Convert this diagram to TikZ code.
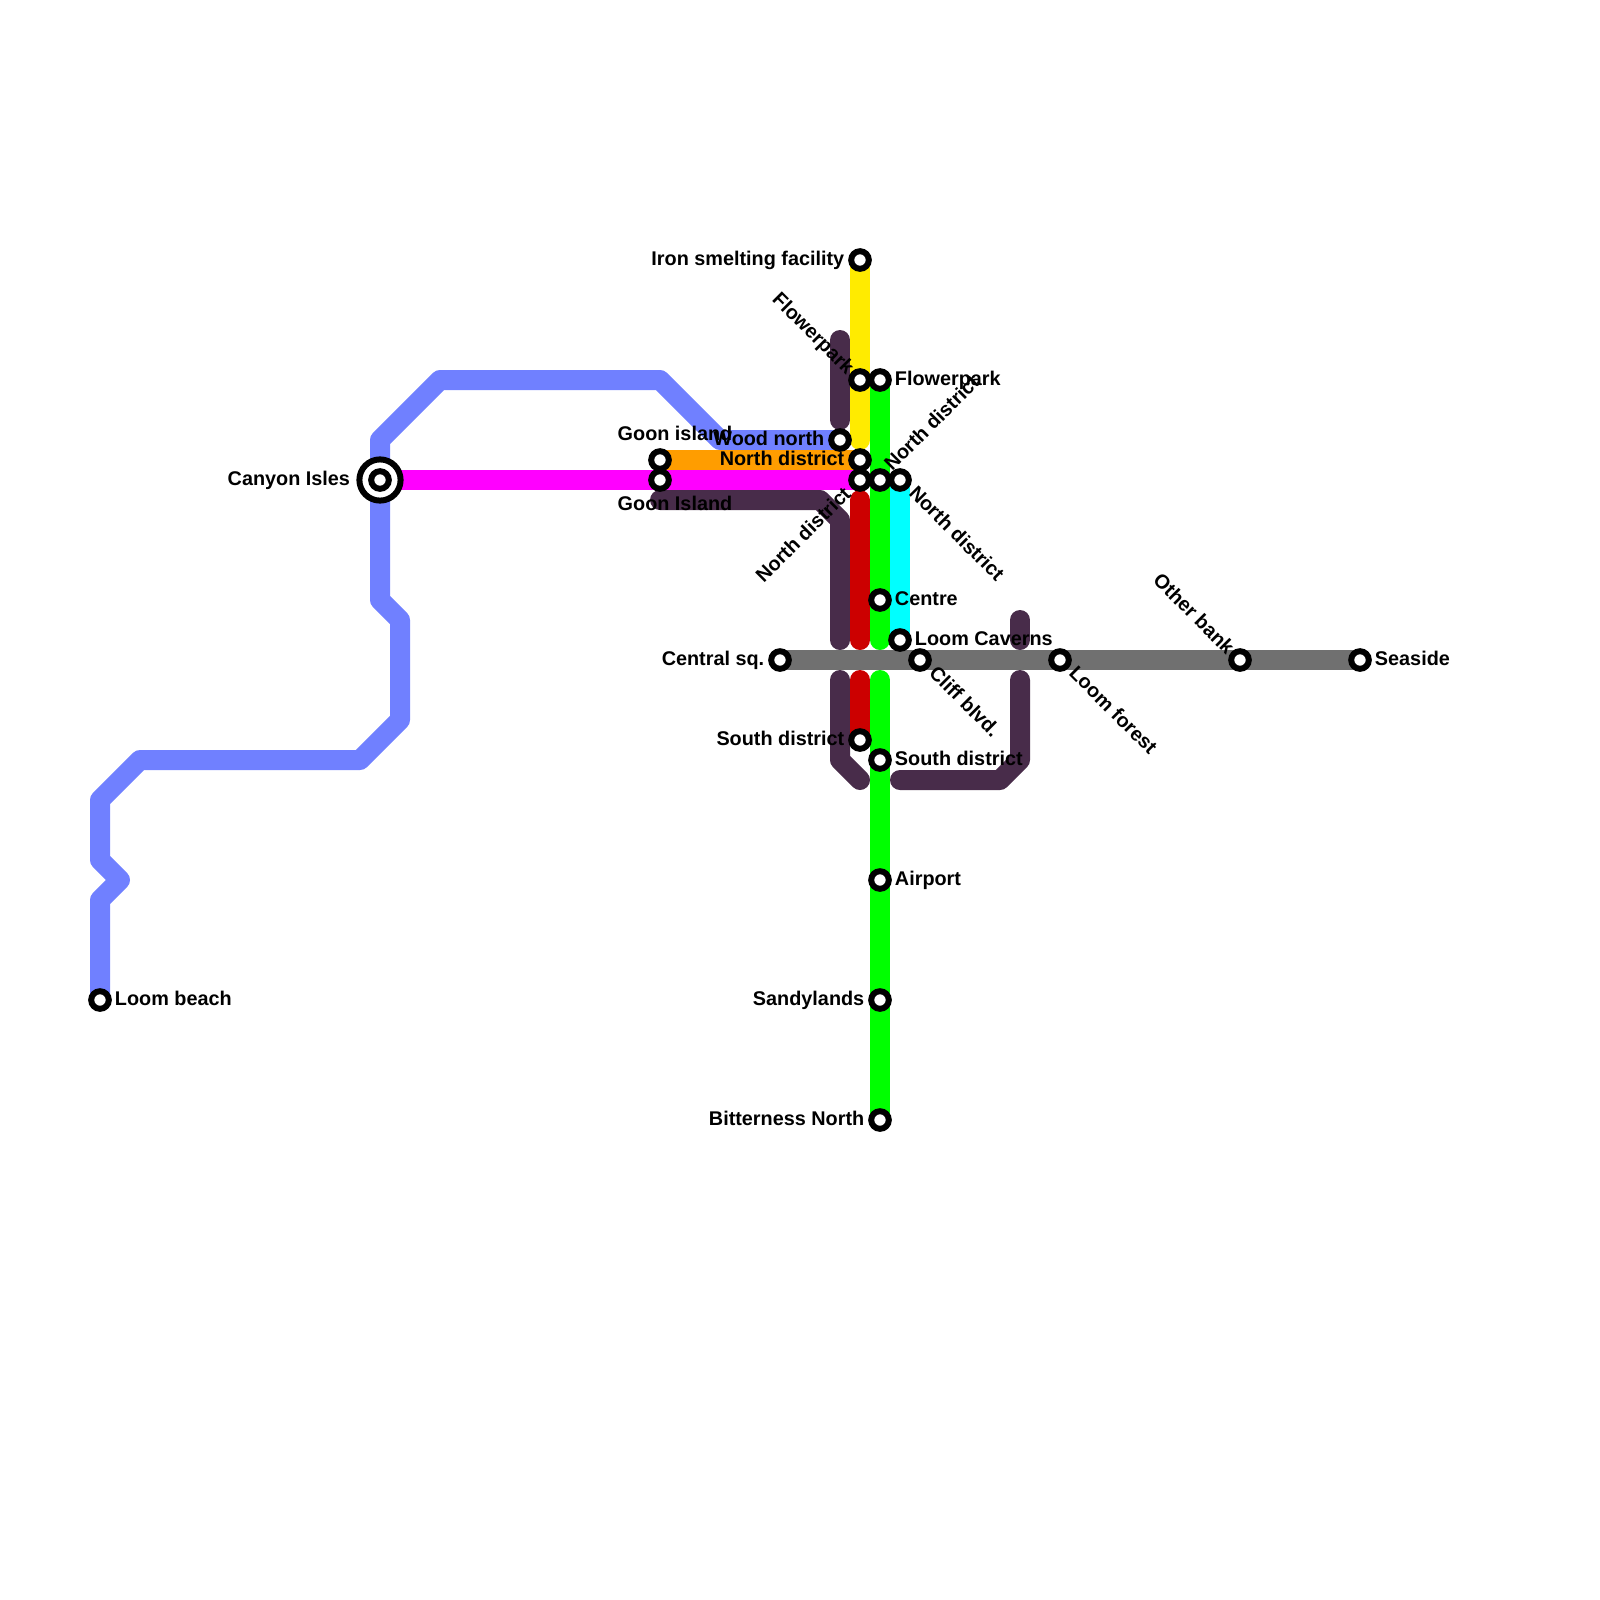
\documentclass[tikz,border=0pt]{standalone}
\usepackage{fontspec}
\setmainfont{Liberation Sans}
\usetikzlibrary{backgrounds}

\definecolor{linkblue}{HTML}{7080FF}
\definecolor{linkyellow}{HTML}{FFEB00}
\definecolor{linkorange}{HTML}{FF9D00}
\definecolor{linkmagenta}{HTML}{FF00FF}
\definecolor{linkpurple}{HTML}{482C4A}
\definecolor{linkred}{HTML}{CC0000}
\definecolor{linkgreen}{HTML}{00FF00}
\definecolor{linkcyan}{HTML}{00FFFF}
\definecolor{linkgrey}{HTML}{707070}

\tikzset{
    metro/.style={line width=0.25cm,line cap=round,line join=round},
    stn/.style={circle,draw=black,fill=white,line width=0.075cm,minimum size=0.22cm,inner sep=0pt},
    hub/.style={circle,draw=black,fill=white,line width=0.075cm,minimum size=0.515cm,inner sep=0pt},
    lbl/.style={font=\bfseries\fontsize{7.05}{8}\selectfont,inner sep=0pt,text height=1.5ex,text depth=0.3ex,yshift=0.045cm},
    lblR/.style={lbl,anchor=west,xshift=0.18cm},
    lblL/.style={lbl,anchor=east,xshift=-0.19cm},
    lblSE/.style={lbl,shift={(0.174cm,-0.14cm)},rotate=-45,anchor=west},
    lblNW/.style={lbl,shift={(-0.09cm,0.085cm)},rotate=-45,anchor=east},
    lblNE/.style={lbl,shift={(0.072cm,0.129cm)},rotate=45,anchor=west},
    lblSW/.style={lbl,shift={(-0.174cm,-0.153cm)},rotate=45,anchor=east},
}

\begin{document}
\begin{tikzpicture}[x=0.25cm,y=-0.25cm]
\useasboundingbox (0,0) rectangle (80,80);

% Stations
\node[hub] (canyonring) at (19,24) {};
\foreach \name/\x/\y in {
    loombeach/5/50, canyon/19/24, goonnorth/33/23, goonsouth/33/24,
    iron/43/13, flowerwest/43/19, flowereast/44/19, wood/42/22,
    northtop/43/23, northwest/43/24, northmid/44/24, northeast/45/24,
    centre/44/30, caverns/45/32, centralsq/39/33, cliff/46/33,
    loomforest/53/33, otherbank/62/33, seaside/68/33,
    southwest/43/37, southeast/44/38, airport/44/44,
    sandy/44/50, bitterness/44/56}{
    \node[stn] (\name) at (\x,\y) {};
}

% Lines
\begin{pgfonlayer}{background}
\coordinate (yellowend) at (43,22);
\coordinate (purpletop) at (42,17);
\coordinate (purplelow) at (42,21);
\coordinate (purplewest) at (33,25);
\coordinate (purplemid) at (42,32);
\coordinate (redtop) at (43,25);
\coordinate (redlow) at (43,32);
\coordinate (greenlow) at (44,32);
\coordinate (redsouth) at (43,34);
\coordinate (greensouth) at (44,34);
\coordinate (purplesouth) at (42,34);
\coordinate (purplehook) at (43,39);
\coordinate (purplebase) at (45,39);
\coordinate (purpleright) at (51,34);
\coordinate (stubtop) at (51,31);
\coordinate (stublow) at (51,32);

\draw[metro,linkblue] (loombeach.center) -- (5,45) -- (6,44) -- (5,43) -- (5,40)
    -- (7,38) -- (18,38) -- (20,36) -- (20,31) -- (19,30) -- (19,22) -- (22,19)
    -- (33,19) -- (36,22) -- (wood.center);
\draw[metro,linkyellow] (iron.center) -- (yellowend);
\draw[metro,linkorange] (goonnorth.center) -- (northtop.center);
\draw[metro,linkmagenta] (canyon.center) -- (northwest.center);
\draw[metro,linkpurple] (purpletop) -- (purplelow);
\draw[metro,linkpurple] (purplewest) -- (41,25) -- (42,26) -- (purplemid);
\draw[metro,linkred] (redtop) -- (redlow);
\draw[metro,linkcyan] (northeast.center) -- (caverns.center);
\draw[metro,linkgreen] (flowereast.center) -- (greenlow);
\draw[metro,linkgrey] (centralsq.center) -- (seaside.center);
\draw[metro,linkpurple] (stubtop) -- (stublow);
\draw[metro,linkpurple] (purplesouth) -- (42,38) -- (purplehook);
\draw[metro,linkpurple] (purplebase) -- (50,39) -- (51,38) -- (purpleright);
\draw[metro,linkred] (redsouth) -- (southwest.center);
\draw[metro,linkgreen] (greensouth) -- (bitterness.center);
\end{pgfonlayer}

% Labels
\foreach \name/\txt in {loombeach/Loom beach, flowereast/Flowerpark, centre/Centre,
    caverns/Loom Caverns, seaside/Seaside, southeast/South district, airport/Airport}{
    \node[lblR] (\name-txt) at (\name.center) {\txt};
}
\foreach \name/\txt in {iron/Iron smelting facility, wood/Wood north,
    northtop/North district, centralsq/Central sq., southwest/South district,
    sandy/Sandylands, bitterness/Bitterness North}{
    \node[lblL] (\name-txt) at (\name.center) {\txt};
}
\node[lblL,xshift=-0.178cm] (canyon-txt) at (canyonring.center) {Canyon Isles};
\foreach \name/\txt in {northeast/North district, cliff/Cliff blvd., loomforest/Loom forest}{
    \node[lblSE] (\name-txt) at (\name.center) {\txt};
}
\foreach \name/\txt in {flowerwest/Flowerpark, otherbank/Other bank}{
    \node[lblNW] (\name-txt) at (\name.center) {\txt};
}
\node[lblNE] (northmid-txt) at (northmid.center) {North district};
\node[lblSW] (northwest-txt) at (northwest.center) {North district};
\node[lbl] (goonnorth-txt) at (33.75,21.75) {Goon island};
\node[lbl] (goonsouth-txt) at (33.75,25.25) {Goon Island};

\end{tikzpicture}
\end{document}
